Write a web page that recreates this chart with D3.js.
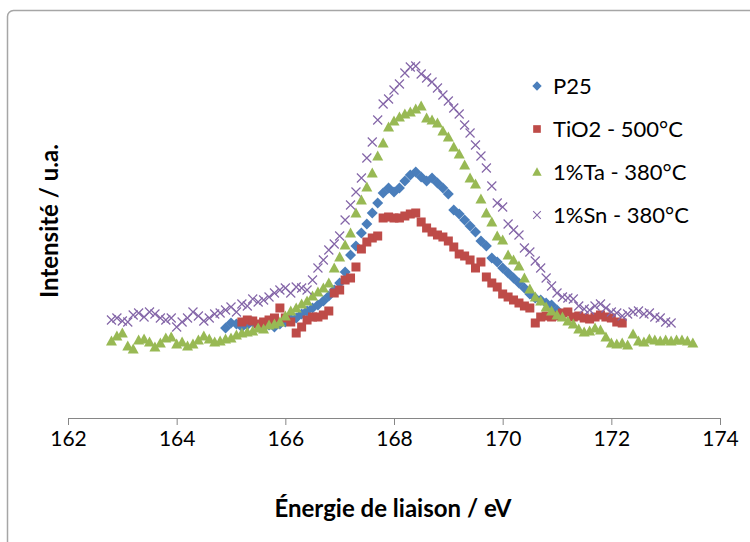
<!DOCTYPE html>
<html>
<head>
<meta charset="utf-8">
<script src="https://cdn.jsdelivr.net/npm/d3@7"></script>
<style>
  html, body { margin: 0; padding: 0; background: #fff; }
  svg { display: block; font-family: Lato, "Open Sans", sans-serif; }
</style>
</head>
<body>
<svg id="chart" width="750" height="542"></svg>
<script>
// Binding energy grid (eV), 0.1 eV step
const energy = [
  162.8, 162.9, 163.0, 163.1, 163.2, 163.3, 163.4, 163.5, 163.6, 163.7, 163.8, 163.9,
  164.0, 164.1, 164.2, 164.3, 164.4, 164.5, 164.6, 164.7, 164.8, 164.9,
  165.0, 165.1, 165.2, 165.3, 165.4, 165.5, 165.6, 165.7, 165.8, 165.9,
  166.0, 166.1, 166.2, 166.3, 166.4, 166.5, 166.6, 166.7, 166.8, 166.9,
  167.0, 167.1, 167.2, 167.3, 167.4, 167.5, 167.6, 167.7, 167.8, 167.9,
  168.0, 168.1, 168.2, 168.3, 168.4, 168.5, 168.6, 168.7, 168.8, 168.9,
  169.0, 169.1, 169.2, 169.3, 169.4, 169.5, 169.6, 169.7, 169.8, 169.9,
  170.0, 170.1, 170.2, 170.3, 170.4, 170.5, 170.6, 170.7, 170.8, 170.9,
  171.0, 171.1, 171.2, 171.3, 171.4, 171.5, 171.6, 171.7, 171.8, 171.9,
  172.0, 172.1, 172.2, 172.3, 172.4, 172.5, 172.6, 172.7, 172.8, 172.9,
  173.0, 173.1, 173.2, 173.3, 173.4, 173.5
];

// Intensities (a.u.) for each sample, starting at the given energy
const p25Start = 164.9;
const p25 = [
  90, 95, 94, 91, 93, 96, 92, 91, 93, 91, 94, 96,
  99, 100, 104, 107, 110, 113, 117, 122, 128, 135,
  146, 163, 172, 185, 194, 205, 215, 225, 230, 226,
  230, 237, 243, 246, 241, 237, 240, 235, 230, 224,
  208, 204, 198, 192, 186, 177, 172, 160, 156, 150,
  145, 140, 135, 130, 124, 120, 118, 115, 113, 108
];

const tio2Start = 165.2;
const tio2 = [
  96, 98, 97, 94, 96, 98, 100, 110, 100,
  96, 85, 91, 98, 101, 101, 103, 107, 125, 128,
  138, 140, 151, 169, 176, 180, 182, 200, 201, 200,
  200, 202, 204, 205, 196, 190, 186, 183, 181, 177,
  171, 164, 162, 158, 150, 156, 141, 135, 131, 124,
  121, 118, 115, 112, 110, 95, 101, 102, 101, 102,
  105, 106, 101, 102, 100, 99, 101, 103, 101, 100,
  96, 95
];

const taStart = 162.8;
const ta = [
  77, 82, 85, 72, 69, 78, 79, 76, 71, 75, 80, 81, 74, 76, 72, 74, 78, 82, 79, 76, 77, 79, 80,
  83, 85, 86, 87, 90, 89, 93, 94, 96, 102,
  107, 110, 114, 117, 122, 126, 130, 135, 150, 161,
  173, 185, 205, 218, 231, 245, 262, 275, 291, 297,
  301, 304, 306, 309, 312, 300, 298, 295, 287, 281,
  271, 264, 253, 240, 234, 219, 205, 196, 182, 178,
  163, 158, 152, 140, 129, 121, 117, 111, 107, 103,
  101, 97, 94, 89, 86, 87, 90, 88, 81, 75,
  74, 75, 73, 84, 77, 76, 79, 78, 77, 78,
  77, 78, 78, 77, 75
];

const snStart = 162.8;
const sn = [
  98, 100, 97, 96, 103, 105, 101, 106, 104, 100, 98, 100, 91, 96, 100, 106, 102, 97, 100, 104, 105, 108, 111,
  106, 114, 112, 119, 116, 118, 121, 125, 128, 130,
  125, 131, 130, 128, 138, 150, 158, 168, 174, 182,
  198, 213, 226, 240, 260, 276, 298, 314, 319, 328,
  334, 345, 351, 352, 344, 340, 336, 330, 323, 317,
  310, 304, 293, 285, 273, 262, 250, 232, 215, 211,
  194, 188, 183, 170, 166, 157, 150, 140, 132, 125,
  121, 120, 119, 112, 109, 108, 112, 114, 110, 106,
  105, 102, 104, 106, 107, 104, 105, 101, 100, 96,
  95
];

const seriesNames = ["P25", "TiO2 - 500°C", "1%Ta - 380°C", "1%Sn - 380°C"];
const xTicks = [162, 164, 166, 168, 170, 172, 174];
const xTitle = "Énergie de liaison / eV";
const yTitle = "Intensité / u.a.";

// Build the series table
function pairUp(start, values) {
  const i0 = energy.indexOf(start);
  return values.map((v, i) => ({ e: energy[i0 + i], v }));
}
const series = [
  { name: seriesNames[0], shape: "diamond", color: "#4a7ebb", points: pairUp(p25Start, p25) },
  { name: seriesNames[1], shape: "square",  color: "#be4b48", points: pairUp(tio2Start, tio2) },
  { name: seriesNames[2], shape: "triangle", color: "#98b954", points: pairUp(taStart, ta) },
  { name: seriesNames[3], shape: "cross",   color: "#8466a8", points: pairUp(snStart, sn) }
];

const svg = d3.select("#chart");

// Outer chart frame
svg.append("rect")
  .attr("x", 7.5).attr("y", 10.5)
  .attr("width", 800).attr("height", 600)
  .attr("rx", 6)
  .attr("fill", "#fff")
  .attr("stroke", "#a6a6a6")
  .attr("stroke-width", 1.5);

const x = d3.scaleLinear().domain([162, 174]).range([68, 720]);
const y = d3.scaleLinear().domain([0, 400]).range([418, 18]);

// X axis
const xAxis = svg.append("g")
  .attr("transform", `translate(0,${y(0)})`)
  .call(d3.axisBottom(x).tickValues(xTicks).tickFormat(d3.format("d"))
    .tickSize(7).tickSizeOuter(0).tickPadding(6));
xAxis.select(".domain").attr("stroke", "#868686");
xAxis.selectAll(".tick line").attr("stroke", "#868686");
xAxis.selectAll(".tick text")
  .attr("fill", "#000")
  .style("font-family", "Lato, sans-serif")
  .style("font-size", "21px");

// Axis titles
svg.append("text")
  .attr("x", 393).attr("y", 517)
  .attr("text-anchor", "middle")
  .style("font-weight", "bold").style("font-size", "24px")
  .text(xTitle);

svg.append("text")
  .attr("transform", "translate(58,221) rotate(-90)")
  .attr("text-anchor", "middle")
  .style("font-weight", "bold").style("font-size", "24px")
  .text(yTitle);

// Marker drawing
function drawMarker(sel, shape, color) {
  if (shape === "diamond") {
    sel.append("path").attr("d", "M0,-5.5L5.5,0L0,5.5L-5.5,0Z").attr("fill", color);
  } else if (shape === "square") {
    sel.append("rect").attr("x", -4.5).attr("y", -4.5).attr("width", 9).attr("height", 9).attr("fill", color);
  } else if (shape === "triangle") {
    sel.append("path").attr("d", "M0,-5.5L5.5,4.5L-5.5,4.5Z").attr("fill", color);
  } else {
    sel.append("path").attr("d", "M-4.5,-4.5L4.5,4.5M-4.5,4.5L4.5,-4.5")
      .attr("stroke", color).attr("stroke-width", 1.2).attr("fill", "none");
  }
}

const plot = svg.append("g");
series.forEach(s => {
  const g = plot.append("g");
  g.selectAll("g").data(s.points).join("g")
    .attr("transform", d => `translate(${x(d.e)},${y(d.v)})`)
    .each(function () { drawMarker(d3.select(this), s.shape, s.color); });
});

// Legend
const legend = svg.append("g");
series.forEach((s, i) => {
  const row = legend.append("g").attr("transform", `translate(537,${86 + i * 43})`);
  drawMarker(row.append("g").attr("transform", "scale(0.85)"), s.shape, s.color);
  row.append("text")
    .attr("x", 16).attr("y", 0).attr("dy", "0.35em")
    .style("font-size", "22px")
    .text(s.name);
});
</script>
</body>
</html>
